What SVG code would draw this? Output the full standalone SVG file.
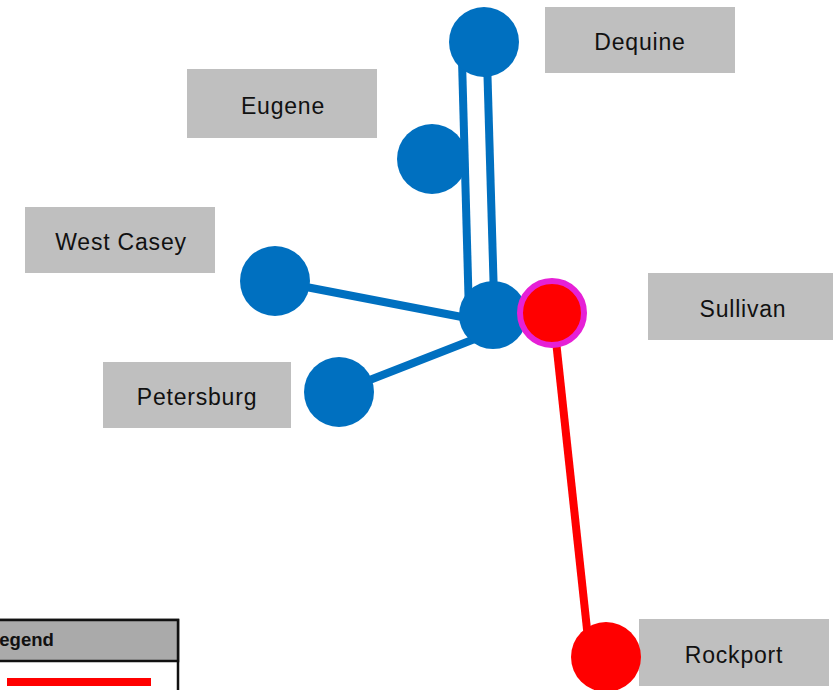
<svg xmlns="http://www.w3.org/2000/svg" width="833" height="690" viewBox="0 0 833 690">
<style>
.lbl{fill:#bfbfbf}
.lt{font-family:"Liberation Sans",Arial,sans-serif;font-size:23px;fill:#111;text-anchor:middle;letter-spacing:0.8px}
.blue{fill:#0070c0}
.red{fill:#ff0000}
.eb{stroke:#0070c0;stroke-width:8;fill:none}
.er{stroke:#ff0000;stroke-width:8;fill:none}
</style>
<rect width="833" height="690" fill="#ffffff"/>
<g id="connectors">
<line class="eb" x1="461.5" y1="42" x2="469" y2="315"/>
<line class="eb" x1="486.5" y1="42" x2="494.5" y2="315"/>
<line class="eb" x1="275" y1="281" x2="493" y2="323"/>
<line class="eb" x1="339" y1="392" x2="490" y2="333"/>
<line class="er" x1="553" y1="313" x2="590" y2="657"/>
</g>
<g id="node-dequine">
<rect class="lbl" x="545" y="7" width="190" height="66"/>
<text class="lt" x="640" y="50">Dequine</text>
<circle class="blue" cx="484" cy="42" r="35"/>
</g>
<g id="node-eugene">
<rect class="lbl" x="187" y="69" width="190" height="69"/>
<text class="lt" x="283" y="114">Eugene</text>
<circle class="blue" cx="432" cy="159" r="35"/>
</g>
<g id="node-westcasey">
<rect class="lbl" x="25" y="207" width="190" height="66"/>
<text class="lt" x="121" y="250">West Casey</text>
<circle class="blue" cx="275" cy="281" r="35"/>
</g>
<g id="node-petersburg">
<rect class="lbl" x="103" y="362" width="188" height="66"/>
<text class="lt" x="197" y="405">Petersburg</text>
<circle class="blue" cx="339" cy="392" r="35"/>
</g>
<g id="node-hub">
<circle class="blue" cx="493" cy="315" r="34"/>
</g>
<g id="node-sullivan">
<rect class="lbl" x="648" y="273" width="190" height="67"/>
<text class="lt" x="743" y="317">Sullivan</text>
<circle cx="552" cy="313" r="32" fill="#ff0000" stroke="#e620d6" stroke-width="6"/>
</g>
<g id="node-rockport">
<rect class="lbl" x="639" y="619" width="190" height="67"/>
<text class="lt" x="734" y="663">Rockport</text>
<circle class="red" cx="606" cy="657" r="35"/>
</g>
<g id="legend">
<rect x="-20" y="620" width="198" height="90" fill="#ffffff" stroke="#111" stroke-width="2.5"/>
<rect x="-20" y="620" width="198" height="41" fill="#aaaaaa" stroke="#111" stroke-width="2.5"/>
<text x="-12" y="646" font-family="Liberation Sans,Arial,sans-serif" font-size="18.5" font-weight="bold" fill="#111">Legend</text>
<rect x="7" y="678" width="144" height="8" fill="#ff0000"/>
</g>
</svg>
